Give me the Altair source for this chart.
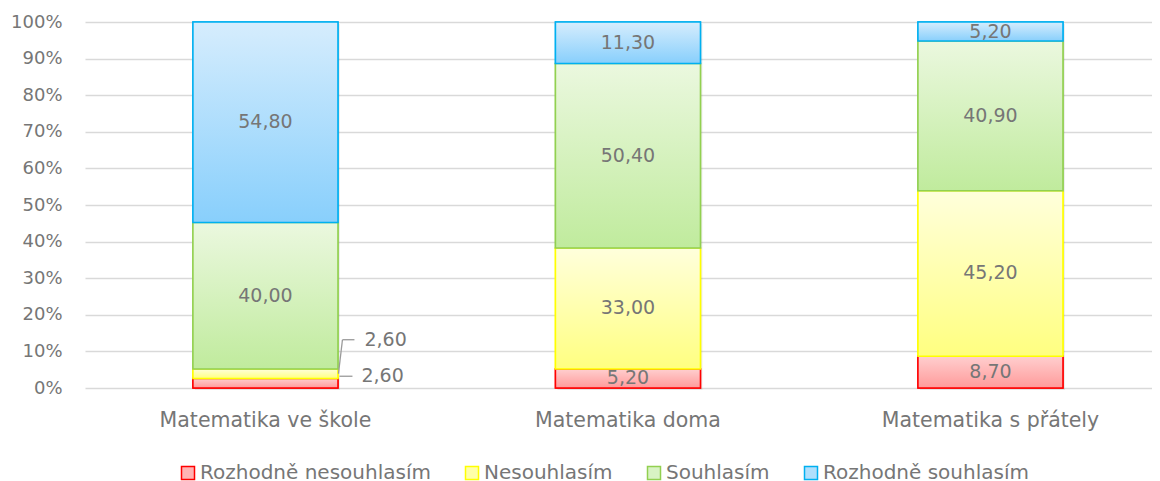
import altair as alt
import pandas as pd

categories = ["Matematika ve škole", "Matematika doma", "Matematika s přátely"]
series = ["Rozhodně nesouhlasím", "Nesouhlasím", "Souhlasím", "Rozhodně souhlasím"]
rozhodne_nesouhlasim = [2.6, 5.2, 8.7]
nesouhlasim = [2.6, 33.0, 45.2]
souhlasim = [40.0, 50.4, 40.9]
rozhodne_souhlasim = [54.8, 11.3, 5.2]
y_ticks = [0, 0.1, 0.2, 0.3, 0.4, 0.5, 0.6, 0.7, 0.8, 0.9, 1.0]

values = [rozhodne_nesouhlasim, nesouhlasim, souhlasim, rozhodne_souhlasim]
rows = []
for si, (s, vals) in enumerate(zip(series, values)):
    for c, v in zip(categories, vals):
        rows.append({"cat": c, "series": s, "order": si, "value": v})
df = pd.DataFrame(rows)

stroke_colors = ["#ff0000", "#ffff00", "#92d050", "#00b0f0"]
legend_fill = ["#ffb3b3", "#ffffa8", "#d8f3c4", "#b0dffc"]
grad = [("#ffcfcf", "#ff9a9a"), ("#ffffdc", "#ffff80"), ("#ebf8df", "#c0eb9d"), ("#d6edfd", "#88cffc")]

FONT = "DejaVu Sans"
GRAY = "#767676"
FS = 20.5

x_enc = alt.X(
    "cat:N", sort=categories, title=None,
    scale=alt.Scale(paddingInner=0.6, paddingOuter=0.2717, align=0.548),
    axis=alt.Axis(labelAngle=0, domain=False, ticks=False, labelPadding=22, labelLimit=0,
                  labelFontSize=FS, labelColor=GRAY, labelFont=FONT),
)
y_axis = alt.Axis(format="%", values=y_ticks, grid=True, gridColor="#d9d9d9", gridWidth=1.5,
                  domain=False, ticks=False, labelPadding=23, minExtent=77, maxExtent=77,
                  labelOverlap=False, labelFontSize=18, labelColor=GRAY, labelFont=FONT)
y_scale = alt.Scale(domain=[0, 1])
y_enc = alt.Y("y0:Q", title=None, scale=y_scale, axis=y_axis)
y_mid = alt.Y("mid:Q", title=None, scale=y_scale, axis=y_axis)

base = alt.Chart(df).transform_stack(
    stack="value", groupby=["cat"], as_=["y0", "y1"], offset="normalize",
    sort=[alt.SortField("order", order="ascending")],
).transform_calculate(
    mid="(datum.y0 + datum.y1) / 2",
    label="replace(format(datum.value, '.2f'), '.', ',')",
)

legend = alt.Legend(
    title=None, orient="none", legendX=93, legendY=441, direction="horizontal",
    symbolType="square", symbolSize=169, symbolStrokeWidth=1.5, labelLimit=0,
    labelFont=FONT, labelFontSize=20, labelColor=GRAY, labelOffset=2, columnPadding=31,
)

shadow = base.mark_bar(fill="#000000", opacity=0.07, xOffset=2, x2Offset=2, yOffset=2, y2Offset=2).encode(
    x=x_enc, y=y_enc, y2="y1:Q")

bars = base.mark_bar(strokeWidth=1.5).encode(
    x=x_enc, y=y_enc, y2="y1:Q",
    fill=alt.Fill("series:N", scale=alt.Scale(domain=series, range=legend_fill), legend=legend),
    stroke=alt.Stroke("series:N", scale=alt.Scale(domain=series, range=stroke_colors), legend=legend),
)

layers = [shadow, bars]
for i, s in enumerate(series):
    g = alt.Gradient(
        gradient="linear",
        stops=[alt.GradientStop(color=grad[i][0], offset=0), alt.GradientStop(color=grad[i][1], offset=1)],
        x1=0, x2=0, y1=0, y2=1,
    )
    layers.append(
        base.transform_filter(alt.datum.order == i)
        .mark_bar(fill=g, stroke=stroke_colors[i], strokeWidth=1.5)
        .encode(x=x_enc, y=y_enc, y2="y1:Q")
    )

LFS = 19
inside = base.transform_filter("datum.value >= 3").mark_text(
    font=FONT, fontSize=LFS, color=GRAY, baseline="middle"
).encode(x=x_enc, y=y_mid, text="label:N")

small_red = base.transform_filter("datum.value < 3 && datum.order == 0")
small_yel = base.transform_filter("datum.value < 3 && datum.order == 1")

red_lab = small_red.mark_text(font=FONT, fontSize=LFS, color=GRAY, align="left", baseline="middle",
                              dx=96, dy=-7).encode(x=x_enc, y=y_mid, text="label:N")
yel_lab = small_yel.mark_text(font=FONT, fontSize=LFS, color=GRAY, align="left", baseline="middle",
                              dx=99, dy=-34).encode(x=x_enc, y=y_mid, text="label:N")

LEAD = "#9a9a9a"
red_lead = small_red.mark_rule(color=LEAD, strokeWidth=1.3, xOffset=74, x2Offset=87,
                               yOffset=-7, y2Offset=-7).encode(
    x=x_enc, x2="cat:N", y=y_mid, y2="mid:Q")
yel_lead1 = small_yel.mark_rule(color=LEAD, strokeWidth=1.3, xOffset=73, x2Offset=77,
                                yOffset=0, y2Offset=-34).encode(
    x=x_enc, x2="cat:N", y=y_mid, y2="mid:Q")
yel_lead2 = small_yel.mark_rule(color=LEAD, strokeWidth=1.3, xOffset=77, x2Offset=89,
                                yOffset=-34, y2Offset=-34).encode(
    x=x_enc, x2="cat:N", y=y_mid, y2="mid:Q")

chart = alt.layer(*layers, inside, red_lab, yel_lab, red_lead, yel_lead1, yel_lead2).properties(
    width=1067, height=366,
    padding={"left": 0, "top": 5, "right": 0, "bottom": 0},
).configure_view(stroke=None).resolve_legend(fill="shared", stroke="shared")

chart.save("out.html", embed_options={"renderer": "svg", "actions": False})
